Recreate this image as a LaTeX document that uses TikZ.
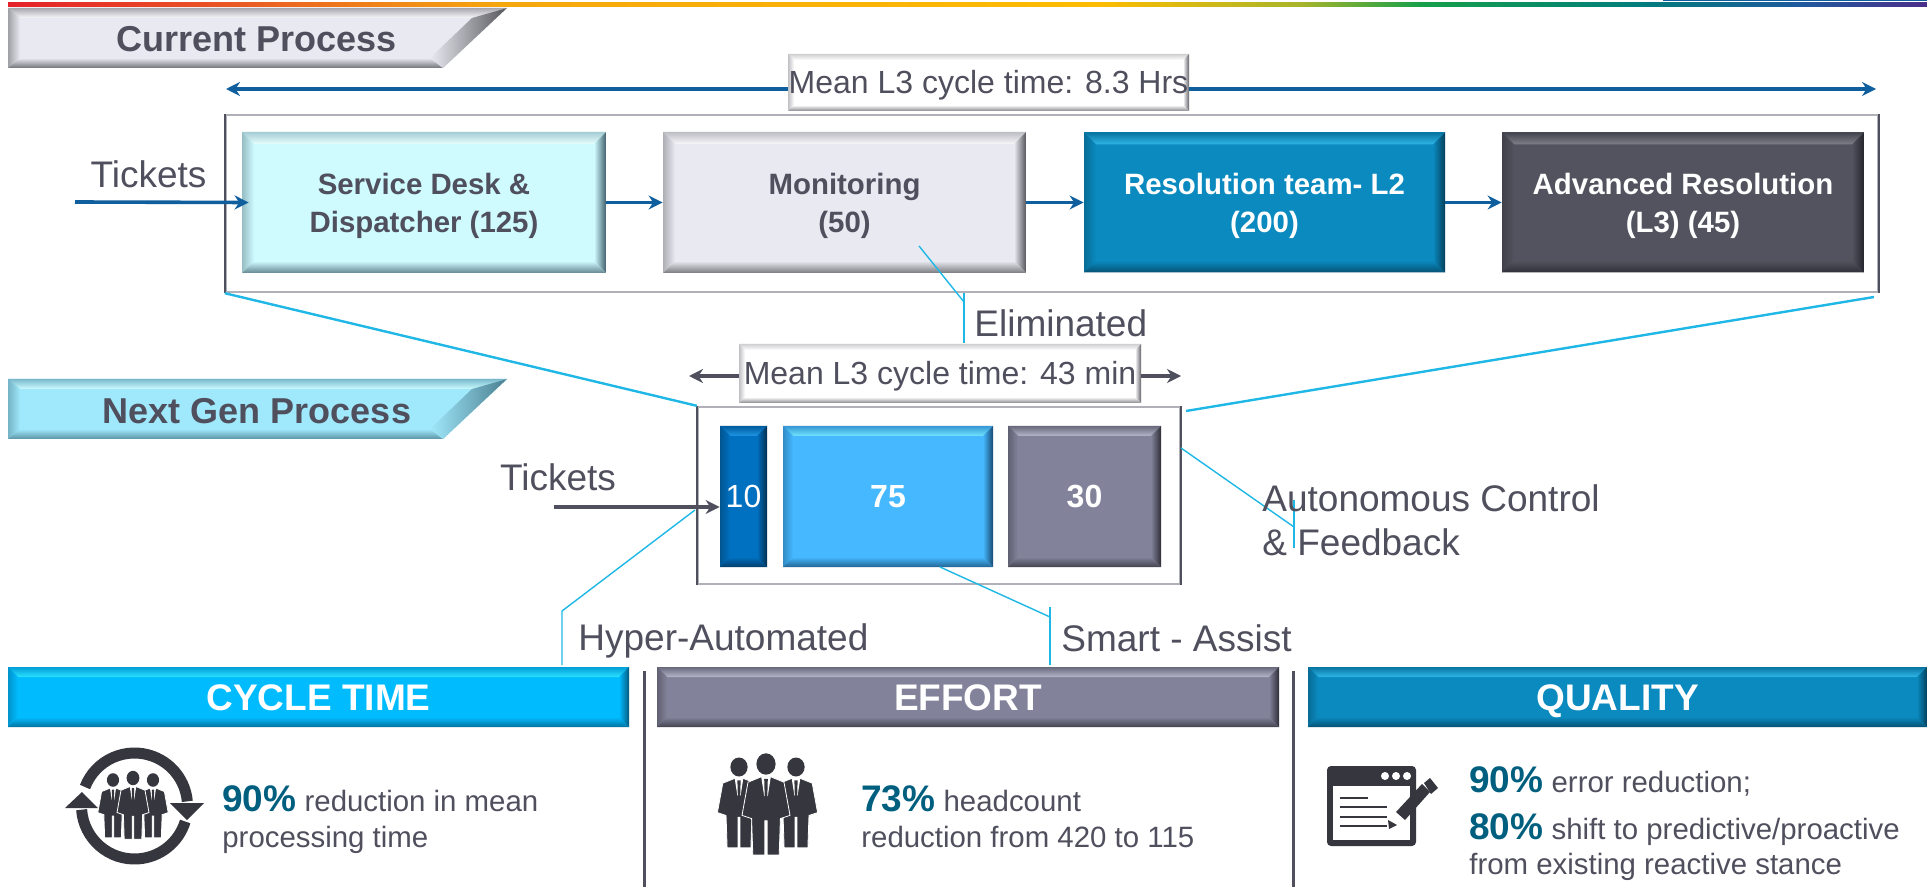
\documentclass[tikz,border=0pt]{standalone}
\usepackage{fontspec}
\setmainfont{Liberation Sans}
\usetikzlibrary{arrows.meta}

\definecolor{inkgray}{HTML}{4F4F5E}
\definecolor{pctteal}{HTML}{005F7F}
\definecolor{flowblue}{HTML}{0F5F9E}
\definecolor{calloutblue}{HTML}{1FB8E6}
\definecolor{suitdark}{HTML}{36363F}
\definecolor{framegray}{HTML}{B0B0B8}

\definecolor{cyanbase}{HTML}{CFFBFF}
\definecolor{cyanlight}{HTML}{E8FFFF}
\definecolor{cyandark}{HTML}{41606C}
\definecolor{palebase}{HTML}{E9E9F1}
\definecolor{palelight}{HTML}{F8F8FB}
\definecolor{paledark}{HTML}{55555B}
\definecolor{tealbase}{HTML}{0A8ABF}
\definecolor{teallight}{HTML}{2FB8E8}
\definecolor{tealdark}{HTML}{053F5A}
\definecolor{slatebase}{HTML}{53535F}
\definecolor{slatelight}{HTML}{80808C}
\definecolor{slatedark}{HTML}{24242C}
\definecolor{whitelight}{HTML}{FFFFFF}
\definecolor{whitedark}{HTML}{62626A}
\definecolor{navybase}{HTML}{0070C0}
\definecolor{navylight}{HTML}{1E96E6}
\definecolor{navydark}{HTML}{022E4E}
\definecolor{skybase}{HTML}{45B8FF}
\definecolor{skylight}{HTML}{70E6FF}
\definecolor{skydark}{HTML}{184A70}
\definecolor{greybase}{HTML}{82829A}
\definecolor{greylight}{HTML}{B6B6CA}
\definecolor{greydark}{HTML}{2E2E38}
\definecolor{cycbase}{HTML}{00BCFF}
\definecolor{cyclight}{HTML}{2CE2FF}
\definecolor{cycdark}{HTML}{04597E}
\definecolor{nextbase}{HTML}{A0E8FB}
\definecolor{nextlight}{HTML}{CCFCFF}
\definecolor{nextdark}{HTML}{4A7F90}

\tikzset{
        bevelbox/.style n args={4}{rectangle, inner sep=0pt, align=center, fill=#1,
                path picture={
                \coordinate (nw) at (path picture bounding box.north west);
                \coordinate (ne) at (path picture bounding box.north east);
                \coordinate (se) at (path picture bounding box.south east);
                \coordinate (sw) at (path picture bounding box.south west);
                \coordinate (inw) at ([xshift=#4,yshift=-#4]nw);
                \coordinate (ine) at ([xshift=-#4,yshift=-#4]ne);
                \coordinate (ise) at ([xshift=-#4,yshift=#4]se);
                \coordinate (isw) at ([xshift=#4,yshift=#4]sw);
                \shade[top color=#3!30!#1, bottom color=#2] (nw) -- (ne) -- (ine) -- (inw) -- cycle;
                \shade[left color=#3!40!#1, right color=#1] (nw) -- (inw) -- (isw) -- (sw) -- cycle;
                \shade[left color=#1, right color=#3] (ne) -- (ine) -- (ise) -- (se) -- cycle;
                \shade[top color=#1, bottom color=#3!75!#1] (sw) -- (isw) -- (ise) -- (se) -- cycle;
                }},
        procbox/.style={font=\fontsize{14.7}{19}\selectfont\bfseries, text height=32pt, text depth=2.4pt},
        timelabel/.style={bevelbox={white}{whitelight}{whitedark}{3pt}, text=inkgray, font=\fontsize{16}{19}\selectfont, text height=14pt, text depth=3pt},
        headbar/.style={text=white, font=\fontsize{18.5}{22}\selectfont\bfseries, minimum height=30pt, text height=13.3pt, text depth=0pt},
        plaintxt/.style={text=inkgray, font=\fontsize{18.5}{22}\selectfont, inner sep=0pt},
        smalltxt/.style={text=inkgray, font=\fontsize{14.7}{18}\selectfont, inner sep=0pt, align=left},
        flowline/.style={-{Stealth[length=7pt,width=7pt]}, flowblue, line width=1.8pt},
        darkline/.style={-{Stealth[length=7pt,width=7pt]}, inkgray, line width=1.8pt},
        callout/.style={calloutblue, line width=.7pt},
        groupbox/.style={rectangle, draw=framegray, line width=1.2pt, inner sep=0pt},
        divider/.style={inkgray, line width=1.5pt},
        pics/suit/.style={code={
                \filldraw[fill=suitdark, draw=white, line width=.4pt] (-4,12) -- (4,12) -- (15,17) -- (20,48) -- (12,51) -- (11,85) -- (1,85) -- (1,53) -- (-1,53) -- (-1,85) -- (-11,85) -- (-12,51) -- (-20,48) -- (-15,17) -- cycle;
                \fill[suitdark] (0,0) ellipse [x radius=8, y radius=10];
                \fill[white] (-4,12) -- (4,12) -- (1.5,30) -- (-1.5,30) -- cycle;
                \fill[suitdark] (-1.5,14) -- (1.5,14) -- (1,34) -- (-1,34) -- cycle;
        }},
        pics/slantbanner/.style n args={3}{code={
                \fill[#1] (8,0) -- (507,0) -- (443,60) -- (8,60) -- cycle;
                \shade[top color=#3!45!#1, bottom color=#2] (8,0) -- (507,0) -- (472,10) -- (20,10) -- cycle;
                \shade[left color=#3!50!#1, right color=#1] (8,0) -- (20,10) -- (20,50) -- (8,60) -- cycle;
                \shade[top color=#1, bottom color=#3!80!#1] (8,60) -- (20,50) -- (430,50) -- (443,60) -- cycle;
                \shade[left color=#1, right color=#3] (507,0) -- (472,10) -- (430,50) -- (443,60) -- cycle;
        }},
}

\begin{document}
\begin{tikzpicture}[x=.5pt,y=-.5pt]
        \path[use as bounding box, fill=white] (0,0) rectangle (1927,887);

        % strip along the top
        \foreach \xa/\ca/\xb/\cb in {8/E4202A/240/EA5A24, 240/EA5A24/500/F5A70E, 500/F5A70E/1100/FDBC00, 1100/FDBC00/1300/A8B52A, 1300/A8B52A/1420/16A04A, 1420/16A04A/1640/007D7D, 1640/007D7D/1800/1F5A9E, 1800/1F5A9E/1927/4B2E8A}
        {
                \definecolor{stopa}{HTML}{\ca}
                \definecolor{stopb}{HTML}{\cb}
                \shade[left color=stopa, right color=stopb] (\xa,3) rectangle (\xb,7);
        }
        \fill[flowblue] (1663,0) rectangle (1927,1.5);

        \pic at (0,8) {slantbanner={palebase}{palelight}{paledark}};
        \pic at (0,379) {slantbanner={nextbase}{nextlight}{nextdark}};
        \node[text=inkgray, font=\fontsize{18}{22}\selectfont\bfseries] (currenttitle) at (257,39) {Current Process};
        \node[text=inkgray, font=\fontsize{18}{22}\selectfont\bfseries] (nexttitle) at (257,411) {Next Gen Process};

        % current process
        \node[groupbox, minimum width=826pt, minimum height=88.5pt] (currentbox) at (1052,203.5) {};
        \draw[inkgray, line width=.8pt] (currentbox.north east) -- (currentbox.south east);
        \draw[inkgray, line width=.8pt] (currentbox.north west) -- (currentbox.south west);
        \node[procbox, text=inkgray, bevelbox={cyanbase}{cyanlight}{cyandark}{6pt}, minimum width=182pt, minimum height=70.5pt] (svcdesk) at (424,202.5) {Service Desk \&\\Dispatcher (125)};
        \node[procbox, text=inkgray, bevelbox={palebase}{palelight}{paledark}{6pt}, minimum width=181.5pt, minimum height=70.5pt] (monitoring) at (844.5,202.5) {Monitoring\\(50)};
        \node[procbox, text=white, bevelbox={tealbase}{teallight}{tealdark}{6pt}, minimum width=180.5pt, minimum height=70pt] (resolution) at (1264.5,202.5) {Resolution team- L2\\(200)};
        \node[procbox, text=white, bevelbox={slatebase}{slatelight}{slatedark}{6pt}, minimum width=181pt, minimum height=70pt] (advanced) at (1683,202.5) {Advanced Resolution\\(L3) (45)};

        \coordinate (ticketsin) at (75,202);
        \draw[flowline] (ticketsin) -- ([xshift=3.5pt]svcdesk.west);
        \draw[flowline] (svcdesk) -- (monitoring);
        \draw[flowline] (monitoring) -- (resolution);
        \draw[flowline] (resolution) -- (advanced);
        \node[plaintxt] (tickets1) at (148.5,174) {Tickets};

        \node[timelabel, minimum width=200.5pt, minimum height=28.5pt] (meanold) at (988.5,82.5) {Mean L3 cycle time: 8.3 Hrs};
        \coordinate (oldleft) at (226,89);
        \coordinate (oldright) at (1876,89);
        \draw[flowline, line width=1.6pt] (meanold.west |- oldleft) -- (oldleft);
        \draw[flowline, line width=1.6pt] (meanold.east |- oldright) -- (oldright);

        % next gen process
        \node[groupbox, minimum width=241pt, minimum height=88.5pt] (nextbox) at (939,495.5) {};
        \draw[inkgray, line width=.8pt] (nextbox.north east) -- (nextbox.south east);
        \draw[inkgray, line width=.8pt] (nextbox.north west) -- (nextbox.south west);
        \node[text=white, font=\fontsize{16}{19}\selectfont, bevelbox={navybase}{navylight}{navydark}{5pt}, minimum width=23.5pt, minimum height=70.5pt] (autobox) at (743.5,496.5) {10};
        \node[text=white, font=\fontsize{16}{19}\selectfont\bfseries, bevelbox={skybase}{skylight}{skydark}{5pt}, minimum width=105pt, minimum height=70.5pt] (assistbox) at (888,496.5) {75};
        \node[text=white, font=\fontsize{16}{19}\selectfont\bfseries, bevelbox={greybase}{greylight}{greydark}{5pt}, minimum width=76.5pt, minimum height=70.5pt] (ctrlbox) at (1084.5,496.5) {30};

        \node[timelabel, minimum width=201pt, minimum height=29.5pt] (meannew) at (940,373.5) {Mean L3 cycle time: 43 min};
        \coordinate (newleft) at (689,376);
        \coordinate (newright) at (1181,376);
        \draw[darkline] (meannew.west |- newleft) -- (newleft);
        \draw[darkline] (meannew.east |- newright) -- (newright);

        \coordinate (ticketsnew) at (554,507);
        \draw[darkline] (ticketsnew) -- (autobox.west |- ticketsnew);
        \node[plaintxt] (tickets2) at (558,477) {Tickets};

        % callouts
        \draw[callout, line width=1.2pt] (currentbox.south west) -- (nextbox.north west);
        \coordinate (rightfrom) at (1874,297);
        \coordinate (rightto) at (1186,411);
        \draw[callout, line width=1.2pt] (rightfrom) -- (rightto);

        \coordinate (elimstart) at (919,246);
        \coordinate (elimbend) at (964,302);
        \coordinate (elimtop) at (964,293);
        \coordinate (elimend) at (964,343);
        \draw[callout] (elimstart) -- (elimbend);
        \draw[callout] (elimtop) -- (elimend);
        \node[plaintxt, anchor=west] (eliminated) at (974,323) {Eliminated};

        \coordinate (ctrlstart) at (1181,448);
        \coordinate (ctrlbend) at (1294,527);
        \coordinate (ctrltop) at (1294,500);
        \coordinate (ctrlend) at (1294,548);
        \draw[callout] (ctrlstart) -- (ctrlbend);
        \draw[callout] (ctrltop) -- (ctrlend);
        \node[plaintxt, align=left, anchor=west] (autonomous) at (1262,520) {Autonomous Control\\\& Feedback};

        \coordinate (hyperstart) at (695,510);
        \coordinate (hyperbend) at (562,611);
        \coordinate (hyperend) at (562,665);
        \draw[callout] (hyperstart) -- (hyperbend) -- (hyperend);
        \node[plaintxt, anchor=west] (hyper) at (578,641) {Hyper-Automated};

        \coordinate (smartstart) at (940,567);
        \coordinate (smartbend) at (1050,617);
        \coordinate (smarttop) at (1050,607);
        \coordinate (smartend) at (1050,665);
        \draw[callout] (smartstart) -- (smartbend);
        \draw[callout] (smarttop) -- (smartend);
        \node[plaintxt, anchor=west] (smart) at (1061,638) {Smart - Assist};

        % three result columns
        \node[headbar, bevelbox={cycbase}{cyclight}{cycdark}{5pt}, minimum width=310.5pt] (cycle) at (318.5,697) {CYCLE TIME};
        \node[headbar, bevelbox={greybase}{greylight}{greydark}{5pt}, minimum width=311pt] (effort) at (968,697) {EFFORT};
        \node[headbar, bevelbox={tealbase}{teallight}{tealdark}{5pt}, minimum width=309.5pt] (quality) at (1617.5,697) {QUALITY};
        \draw[divider] (644,671) -- (644,887);
        \draw[divider] (1293,671) -- (1293,887);

        % cycle icon
        \coordinate (ringc) at (134.5,806);
        \draw[suitdark, line width=5.5pt] ([shift={(159:26.5pt)}]ringc) arc[start angle=159, end angle=5, radius=26.5pt];
        \draw[suitdark, line width=5.5pt] ([shift={(184:26.5pt)}]ringc) arc[start angle=184, end angle=343, radius=26.5pt];
        \fill[suitdark] (170,803) -- (204,803) -- (187,820) -- cycle;
        \fill[suitdark] (65,808) -- (98,808) -- (82,792) -- cycle;
        \pic[xscale=.76, yscale=.68] at (113,780) {suit};
        \pic[xscale=.76, yscale=.68] at (153,780) {suit};
        \pic[xscale=.8, yscale=.72] at (133,778) {suit};

        % effort icon
        \pic[xscale=1.08, yscale=.95] at (739,767) {suit};
        \pic[xscale=1.08, yscale=.95] at (796,767) {suit};
        \pic[xscale=1.2, yscale=1.07] at (766,764) {suit};

        % quality icon
        \fill[suitdark, rounded corners=2pt] (1327,766) rectangle (1416,846);
        \fill[white] (1333,786) rectangle (1410,840);
        \foreach \dx in {1385,1396,1407}
                \fill[white] (\dx,776) circle (2pt);
        \draw[suitdark, line width=1pt] (1340,798) -- (1368,798);
        \foreach \ly in {807,817,826}
                \draw[suitdark, line width=1pt] (1340,\ly) -- (1387,\ly);
        \fill[suitdark] (1388,820) -- (1397,825) -- (1389,829) -- cycle;
        \fill[suitdark] (1396,812) -- (1422,784) -- (1430,792) -- (1405,820) -- cycle;
        \fill[suitdark] (1424,783) -- (1430,778) -- (1438,788) -- (1431,794) -- cycle;

        % result texts
        \node[smalltxt, anchor=north west] (cycletxt) at (222,785) {{\fontsize{18.5}{18.5}\selectfont\bfseries\color{pctteal}90\%} reduction in mean\\processing time};
        \node[smalltxt, anchor=north west] (efforttxt) at (861,785) {{\fontsize{18.5}{18.5}\selectfont\bfseries\color{pctteal}73\%} headcount\\reduction from 420 to 115};
        \node[smalltxt, anchor=north west, font=\fontsize{14.7}{17.5}\selectfont] (qualitytxt) at (1469,766) {{\fontsize{18.5}{18.5}\selectfont\bfseries\color{pctteal}90\%} error reduction;\\[6pt]{\fontsize{18.5}{18.5}\selectfont\bfseries\color{pctteal}80\%} shift to predictive/proactive\\from existing reactive stance};
\end{tikzpicture}
\end{document}
